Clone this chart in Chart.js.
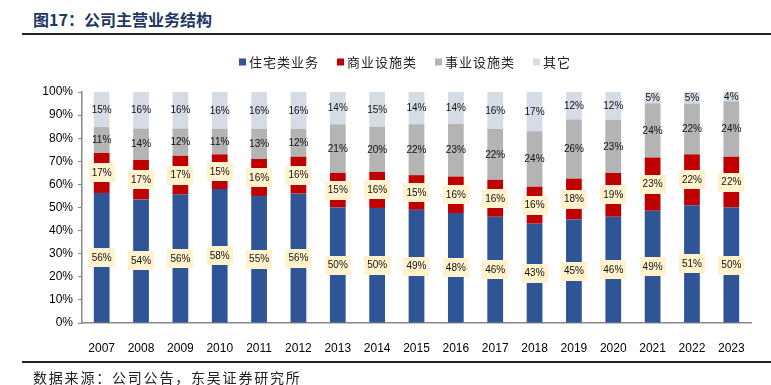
<!DOCTYPE html>
<html><head><meta charset="utf-8">
<script src="https://cdn.jsdelivr.net/npm/chart.js@4"></script>
<style>
html,body{margin:0;padding:0;background:#fff;}
#wrap{position:relative;width:771px;height:385px;overflow:hidden;}
#title{position:absolute;left:33px;top:8px;font:bold 16px "Noto Sans CJK SC";color:#1F3864;white-space:nowrap;line-height:22px;}
#line1{position:absolute;left:22px;top:33px;width:749px;height:2px;background:#222;}
#line2{position:absolute;left:22px;top:361px;width:749px;height:2px;background:#222;}
#src{position:absolute;left:33px;top:368px;font:14px "Noto Sans CJK SC";letter-spacing:1.8px;color:#222;line-height:18px;white-space:nowrap;}
canvas{position:absolute;left:0;top:0;}
</style></head>
<body>
<div id="wrap">
<div id="title">图17：公司主营业务结构</div>
<div id="line1"></div>
<canvas id="c" width="771" height="385"></canvas>
<div id="line2"></div>
<div id="src">数据来源：公司公告，东吴证券研究所</div>
</div>
<script>
const years=['2007','2008','2009','2010','2011','2012','2013','2014','2015','2016','2017','2018','2019','2020','2021','2022','2023'];
const seriesNames=['住宅类业务','商业设施类','事业设施类','其它'];
const residential=[56.3,53.5,55.6,58,55,56,50,49.8,49,47.6,46,43,44.8,46,48.6,51,50];
const commercial=[17.3,17.1,16.8,15,16,16,15,15.6,15,15.8,16,16,17.7,19,23,22,22];
const publicFac=[11.2,13.6,11.8,11,13,12,21,19.6,22,22.8,22,24,25.6,23,23.5,22,24];
const other=[15.2,15.8,15.8,16,16,16,14,15,14,13.8,16,17,11.9,12,4.9,5,4];
const colors=['#2F5597','#C00000','#B4B4B4','#D6DCE5'];
const boxed=[true,true,false,false];
const seriesData=[residential,commercial,publicFac,other];

const labelPlugin={
  id:'segLabels',
  afterDatasetsDraw(chart){
    const ctx=chart.ctx;const top=chart.chartArea.top;
    ctx.save();
    ctx.font='10px "Liberation Sans"';
    ctx.textAlign='center';ctx.textBaseline='middle';
    chart.data.datasets.forEach((ds,i)=>{
      const meta=chart.getDatasetMeta(i);
      meta.data.forEach((el,j)=>{
        const txt=Math.round(ds.data[j])+'%';
        const x=el.x,y=(Math.max(el.y,top)+el.base)/2;
        const w=ctx.measureText(txt).width;
        if(boxed[i]){ctx.fillStyle='#FFF2CC';ctx.fillRect(Math.round(x-w/2-3),Math.round(y-9.5),Math.round(w+6),19);}
        ctx.fillStyle='#111';
        ctx.fillText(txt,x,y+0.5);
      });
    });
    ctx.restore();
  }
};
const legendPlugin={
  id:'customLegend',
  afterDraw(chart){
    const ctx=chart.ctx;ctx.save();
    ctx.font='13px "Noto Sans CJK SC"';
    if('letterSpacing' in ctx) ctx.letterSpacing='1px';
    ctx.textBaseline='middle';ctx.textAlign='left';
    let x=239;const y=62;
    chart.data.datasets.forEach(ds=>{
      ctx.fillStyle=ds.backgroundColor;ctx.fillRect(x,y-3.5,7,7);
      ctx.fillStyle='#222';ctx.fillText(ds.label,x+10,y);
      x+=10+ctx.measureText(ds.label).width+18;
    });
    ctx.restore();
  }
};
new Chart(document.getElementById('c'),{
  type:'bar',
  data:{labels:years,datasets:seriesData.map((d,i)=>({label:seriesNames[i],data:d,backgroundColor:colors[i],borderWidth:0,barPercentage:0.4,categoryPercentage:1}))},
  options:{
    responsive:false,animation:false,
    layout:{padding:{left:0,top:92,right:20,bottom:32}},
    plugins:{legend:{display:false},tooltip:{enabled:false}},
    scales:{
      x:{stacked:true,grid:{display:false},border:{display:true,color:'#888',width:1.5},
         ticks:{padding:10,color:'#000',font:{family:'Liberation Sans',size:12}},
         afterFit(s){s.height=30;}},
      y:{stacked:true,min:0,max:100,
         ticks:{stepSize:10,padding:5,color:'#000',font:{family:'Liberation Sans',size:12},callback:v=>v+'%'},
         grid:{drawOnChartArea:false,drawTicks:true,tickLength:4,color:'#888'},
         border:{display:true,color:'#888',width:1.5},
         afterFit(s){s.width=82;}}
    }
  },
  plugins:[labelPlugin,legendPlugin]
});
</script>
</body></html>
